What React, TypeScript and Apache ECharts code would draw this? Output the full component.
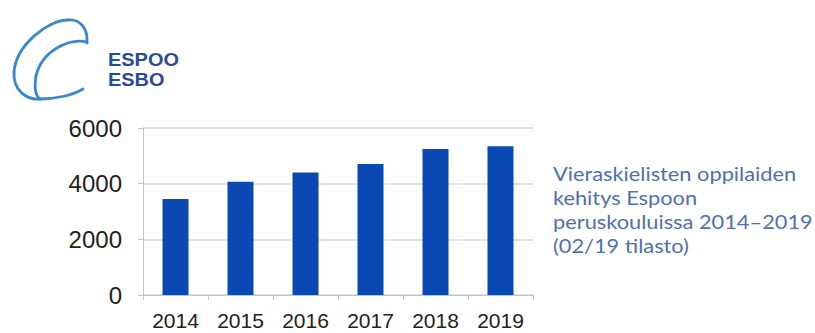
import React, { useEffect, useRef } from "react";
import * as echarts from "echarts";

const years = ["2014", "2015", "2016", "2017", "2018", "2019"];
const pupils = [3450, 4070, 4400, 4710, 5250, 5340];
const captionLines = [
  "Vieraskielisten oppilaiden",
  "kehitys Espoon",
  "peruskouluissa 2014\u20132019",
  "(02/19 tilasto)",
];
const logoLines = ["ESPOO", "ESBO"];

// swoosh curve segments: [x1, y1, cpx1, cpy1, cpx2, cpy2, x2, y2]
const swoosh: number[][] = [
  [87, 43, 88, 28, 80, 19, 68, 20],
  [68, 20, 48, 20, 16, 45, 14, 72],
  [14, 72, 13, 90, 26, 100, 40, 99],
  [40, 99, 56, 99, 73, 95, 83, 89],
  [87, 42, 70, 38, 42, 50, 36, 76],
  [36, 76, 34, 88, 36, 96, 40, 99],
];

export default function App() {
  const ref = useRef<HTMLDivElement>(null);
  useEffect(() => {
    if (!ref.current) return;
    document.body.style.margin = "0";
    const chart = echarts.init(ref.current, undefined, { renderer: "svg" });
    chart.setOption({
      animation: false,
      backgroundColor: "#ffffff",
      grid: { left: 143, right: 282, top: 128, bottom: 38, containLabel: false },
      xAxis: {
        type: "category",
        data: years,
        axisLine: { show: true, lineStyle: { color: "#c4c4c4", width: 1 } },
        axisTick: { show: true, length: 5, lineStyle: { color: "#c4c4c4" } },
        axisLabel: {
          color: "#222222",
          fontFamily: "Liberation Sans, Arial, sans-serif",
          fontSize: 21,
          margin: 15,
        },
      },
      yAxis: {
        type: "value",
        min: 0,
        max: 6000,
        interval: 2000,
        axisLine: { show: true, lineStyle: { color: "#c4c4c4", width: 1 } },
        axisTick: { show: true, length: 5, lineStyle: { color: "#c4c4c4" } },
        splitLine: { show: true, lineStyle: { color: "#d9d9d9", width: 1.5 } },
        axisLabel: {
          color: "#222222",
          fontFamily: "Liberation Sans, Arial, sans-serif",
          fontSize: 24,
          margin: 21,
          formatter: (v: number) => String(v),
        },
      },
      series: [
        {
          type: "bar",
          data: pupils,
          barWidth: "40%",
          itemStyle: { color: "#0a48b4" },
        },
      ],
      graphic: [
        ...swoosh.map((s) => ({
          type: "bezierCurve",
          shape: {
            x1: s[0], y1: s[1], cpx1: s[2], cpy1: s[3],
            cpx2: s[4], cpy2: s[5], x2: s[6], y2: s[7],
          },
          style: { fill: "none", stroke: "#3a88d0", lineWidth: 2.8, lineCap: "round" },
        })),
        ...logoLines.map((t, i) => ({
          type: "text",
          x: 108,
          y: 50 + i * 20.2,
          scaleX: 1.14,
          scaleY: 1,
          style: {
            text: t,
            fill: "#2a4b9c",
            font: "bold 17.5px 'Liberation Sans', Arial, sans-serif",
            lineHeight: 20.1,
            align: "left",
            verticalAlign: "top",
          },
        })),
        ...captionLines.map((t, i) => ({
          type: "text",
          x: 553,
          y: 161 + i * 24,
          scaleX: 1.09,
          scaleY: 1,
          style: {
            text: t,
            fill: "#4d70b6",
            font: "20px Lato, 'Open Sans', sans-serif",
            lineHeight: 24,
            align: "left",
            verticalAlign: "top",
          },
        })),
      ],
    });
    return () => chart.dispose();
  }, []);
  return <div ref={ref} style={{ width: 815, height: 333 }} />;
}
